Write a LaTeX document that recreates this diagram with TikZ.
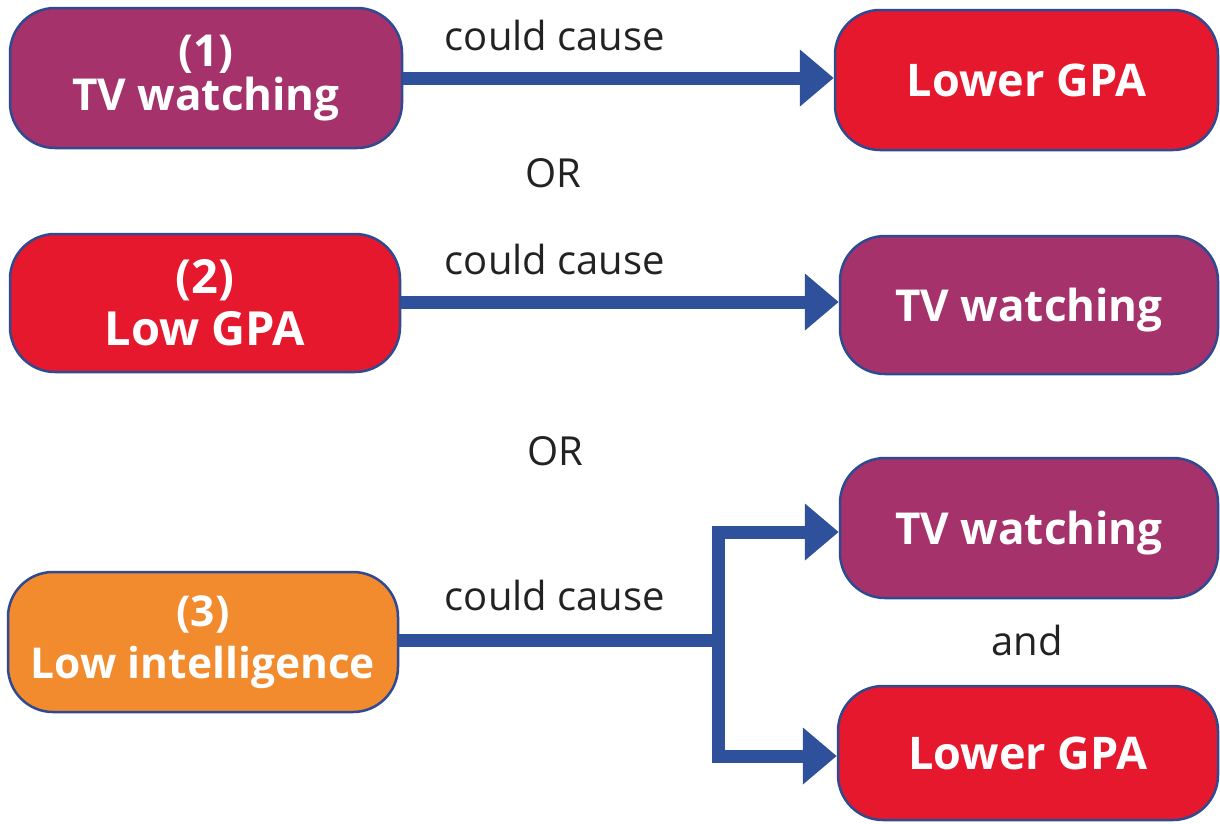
\documentclass[tikz,border=0pt]{standalone}
\usepackage{fontspec}
\setmainfont{Open Sans}
\usetikzlibrary{arrows.meta}
\definecolor{cpurple}{HTML}{A6326B}
\definecolor{cred}{HTML}{E6182D}
\definecolor{corange}{HTML}{F28A2E}
\definecolor{cborder}{HTML}{2F4A90}
\definecolor{carrow}{HTML}{2F519C}
\definecolor{ctext}{HTML}{222222}
\tikzset{
  box/.style={draw=cborder, line width=2.5pt, rounded corners=45pt, inner sep=0pt,
    text=white, align=center, font=\bfseries\fontsize{44}{44}\selectfont},
  single/.style={text depth=0pt},
  lbl/.style={text=ctext, anchor=base, inner sep=0pt, font=\fontsize{40}{40}\selectfont},
  arr/.style={draw=carrow, line width=13pt, line join=miter,
    -{Triangle[width=55pt,length=34pt]}},
  plain/.style={draw=carrow, line width=13pt, line join=miter}
}
\begin{document}
\begin{tikzpicture}[x=1pt,y=-1pt]
\useasboundingbox (0,0) rectangle (1220,823);
% left boxes
\node[box, fill=cpurple, minimum width=392pt, minimum height=140pt] (b1) at (206,78) {(1)\\TV watching};
\node[box, fill=cred, minimum width=390pt, minimum height=138pt, font=\bfseries\fontsize{47}{52}\selectfont] (b2) at (205,303) {(2)\\Low GPA};
\node[box, fill=corange, minimum width=390pt, minimum height=140pt, font=\bfseries\fontsize{42.5}{52}\selectfont] (b3) at (203,642) {(3)\\Low intelligence};
% right boxes
\node[box, single, fill=cred, minimum width=383pt, minimum height=140pt, font=\bfseries\fontsize{45}{45}\selectfont] (r1) at (1026.5,80) {Lower GPA};
\node[box, single, fill=cpurple, minimum width=378pt, minimum height=138pt] (r2) at (1029,305) {TV watching};
\node[box, single, fill=cpurple, minimum width=378pt, minimum height=140pt] (r3) at (1029,528) {TV watching};
\node[box, single, fill=cred, minimum width=380pt, minimum height=134pt, font=\bfseries\fontsize{45}{45}\selectfont] (r4) at (1028,753) {Lower GPA};
% labels
\node[lbl] (c1) at (555,50) {could cause};
\node[lbl] (o1) at (553,187) {OR};
\node[lbl] (c2) at (555,274) {could cause};
\node[lbl] (o2) at (555,465) {OR};
\node[lbl] (c3) at (555,610) {could cause};
\node[lbl] (and) at (1027,655) {and};
% arrows
\draw[arr] (b1.east) -- (b1.east -| r1.west);
\draw[arr] ([yshift=1pt]b2.east) -- ([yshift=1pt]b2.east -| r2.west);
\coordinate (j) at (718,640);
\draw[plain] (b3.east |- j) -- (j);
\draw[draw=carrow, line width=13pt, line join=miter, {Triangle[width=55pt,length=34pt]}-{Triangle[width=55pt,length=34pt]}]
  ([yshift=-4pt]r3.west) -| (j) |- ([yshift=-3pt]r4.west);
\end{tikzpicture}
\end{document}
